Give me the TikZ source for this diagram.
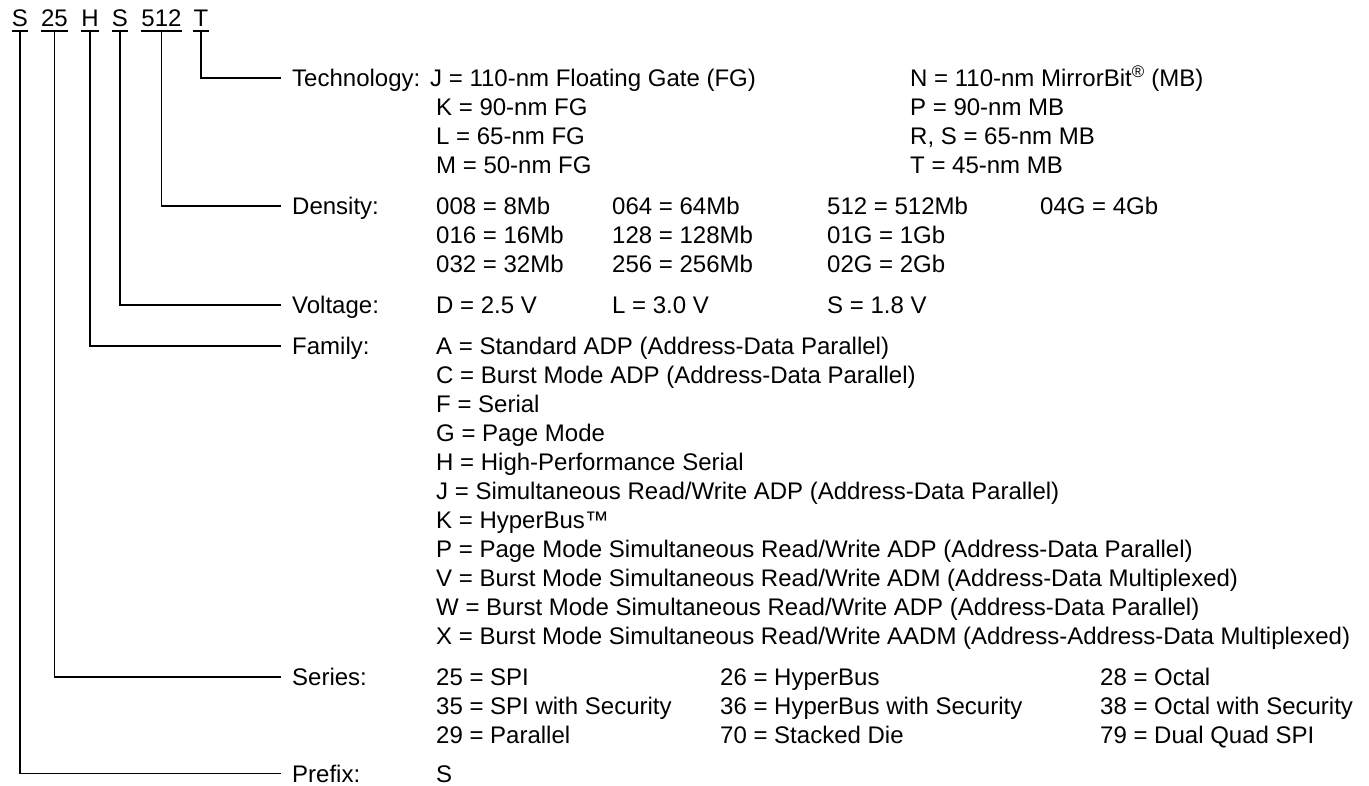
\documentclass[tikz,border=0pt]{standalone}
\usepackage{fontspec}
\setmainfont{Liberation Sans}
\begin{document}
\begin{tikzpicture}[x=1pt,y=-1pt]
\tikzset{
  txt/.style={inner sep=0pt, anchor=base west, font=\fontsize{24}{28}\selectfont},
  lbl/.style={txt, inner xsep=11pt, text height=17.2pt, text depth=0pt},
  code/.style={inner sep=0pt, anchor=base, font=\fontsize{24}{28}\selectfont},
  wire/.style={line width=1.4pt},
}
\path[use as bounding box] (0,0) rectangle (1369,786);
% part number
\node[code] (cS)   at (20,27)    {S};
\node[code] (c25)  at (54.5,27)  {25};
\node[code] (cH)   at (90,27)    {H};
\node[code] (cS2)  at (120,27)   {S};
\node[code] (c512) at (161.5,27) {512};
\node[code] (cT)   at (201,27)   {T};
\foreach \n in {cS,c25,cH,cS2,c512,cT}
  \draw[wire] ([yshift=-4pt]\n.base west) -- ([yshift=-4pt]\n.base east);
% labels
\node[lbl] (lTech) at (281,86.6)  {Technology:};
\node[lbl] (lDen)  at (281,214.6) {Density:};
\node[lbl] (lVol)  at (281,313.6) {Voltage:};
\node[lbl] (lFam)  at (281,354.6) {Family:};
\node[lbl] (lSer)  at (281,685.6) {Series:};
\node[lbl] (lPre)  at (281,782) {Prefix:};
% connectors
\draw[wire] ([yshift=-4pt]cT.base)   |- (lTech.west);
\draw[wire] ([yshift=-4pt]c512.base) |- (lDen.west);
\draw[wire] ([yshift=-4pt]cS2.base)  |- (lVol.west);
\draw[wire] ([yshift=-4pt]cH.base)   |- (lFam.west);
\draw[wire] ([yshift=-4pt]c25.base)  |- (lSer.west);
\draw[wire] ([yshift=-4pt]cS.base)   |- (lPre.west);
% technology
\node[txt] (t1) at (430,86.6)  {J = 110-nm Floating Gate (FG)};
\node[txt] (t2) at (436,115.6) {K = 90-nm FG};
\node[txt] (t3) at (436,144.6) {L = 65-nm FG};
\node[txt] (t4) at (436,173.6) {M = 50-nm FG};
\node[txt] (t5) at (910,86.6)  {N = 110-nm MirrorBit\textsuperscript{®} (MB)};
\node[txt] (t6) at (910,115.6) {P = 90-nm MB};
\node[txt] (t7) at (910,144.6) {R, S = 65-nm MB};
\node[txt] (t8) at (910,173.6) {T = 45-nm MB};
% density
\node[txt] (d1)  at (436,214.6) {008 = 8Mb};
\node[txt] (d2)  at (436,243.6) {016 = 16Mb};
\node[txt] (d3)  at (436,272.6) {032 = 32Mb};
\node[txt] (d4)  at (612,214.6) {064 = 64Mb};
\node[txt] (d5)  at (612,243.6) {128 = 128Mb};
\node[txt] (d6)  at (612,272.6) {256 = 256Mb};
\node[txt] (d7)  at (827,214.6) {512 = 512Mb};
\node[txt] (d8)  at (827,243.6) {01G = 1Gb};
\node[txt] (d9)  at (827,272.6) {02G = 2Gb};
\node[txt] (d10) at (1040,214.6) {04G = 4Gb};
% voltage
\node[txt] (v1) at (436,313.6) {D = 2.5 V};
\node[txt] (v2) at (612,313.6) {L = 3.0 V};
\node[txt] (v3) at (827,313.6) {S = 1.8 V};
% family
\node[txt] (f1)  at (436,354.6) {A = Standard ADP (Address-Data Parallel)};
\node[txt] (f2)  at (436,383.6) {C = Burst Mode ADP (Address-Data Parallel)};
\node[txt] (f3)  at (436,412.6) {F = Serial};
\node[txt] (f4)  at (436,441.6) {G = Page Mode};
\node[txt] (f5)  at (436,470.6) {H = High-Performance Serial};
\node[txt] (f6)  at (436,499.6) {J = Simultaneous Read/Write ADP (Address-Data Parallel)};
\node[txt] (f7)  at (436,528.6) {K = HyperBus™};
\node[txt] (f8)  at (436,557.6) {P = Page Mode Simultaneous Read/Write ADP (Address-Data Parallel)};
\node[txt] (f9)  at (436,586.6) {V = Burst Mode Simultaneous Read/Write ADM (Address-Data Multiplexed)};
\node[txt] (f10) at (436,615.6) {W = Burst Mode Simultaneous Read/Write ADP (Address-Data Parallel)};
\node[txt] (f11) at (436,644.6) {X = Burst Mode Simultaneous Read/Write AADM (Address-Address-Data Multiplexed)};
% series
\node[txt] (s1) at (436,685.6)  {25 = SPI};
\node[txt] (s2) at (436,714.6)  {35 = SPI with Security};
\node[txt] (s3) at (436,743.6)  {29 = Parallel};
\node[txt] (s4) at (720,685.6)  {26 = HyperBus};
\node[txt] (s5) at (720,714.6)  {36 = HyperBus with Security};
\node[txt] (s6) at (720,743.6)  {70 = Stacked Die};
\node[txt] (s7) at (1100,685.6) {28 = Octal};
\node[txt] (s8) at (1100,714.6) {38 = Octal with Security};
\node[txt] (s9) at (1100,743.6) {79 = Dual Quad SPI};
% prefix
\node[txt] (p1) at (436,782) {S};
\end{tikzpicture}
\end{document}
